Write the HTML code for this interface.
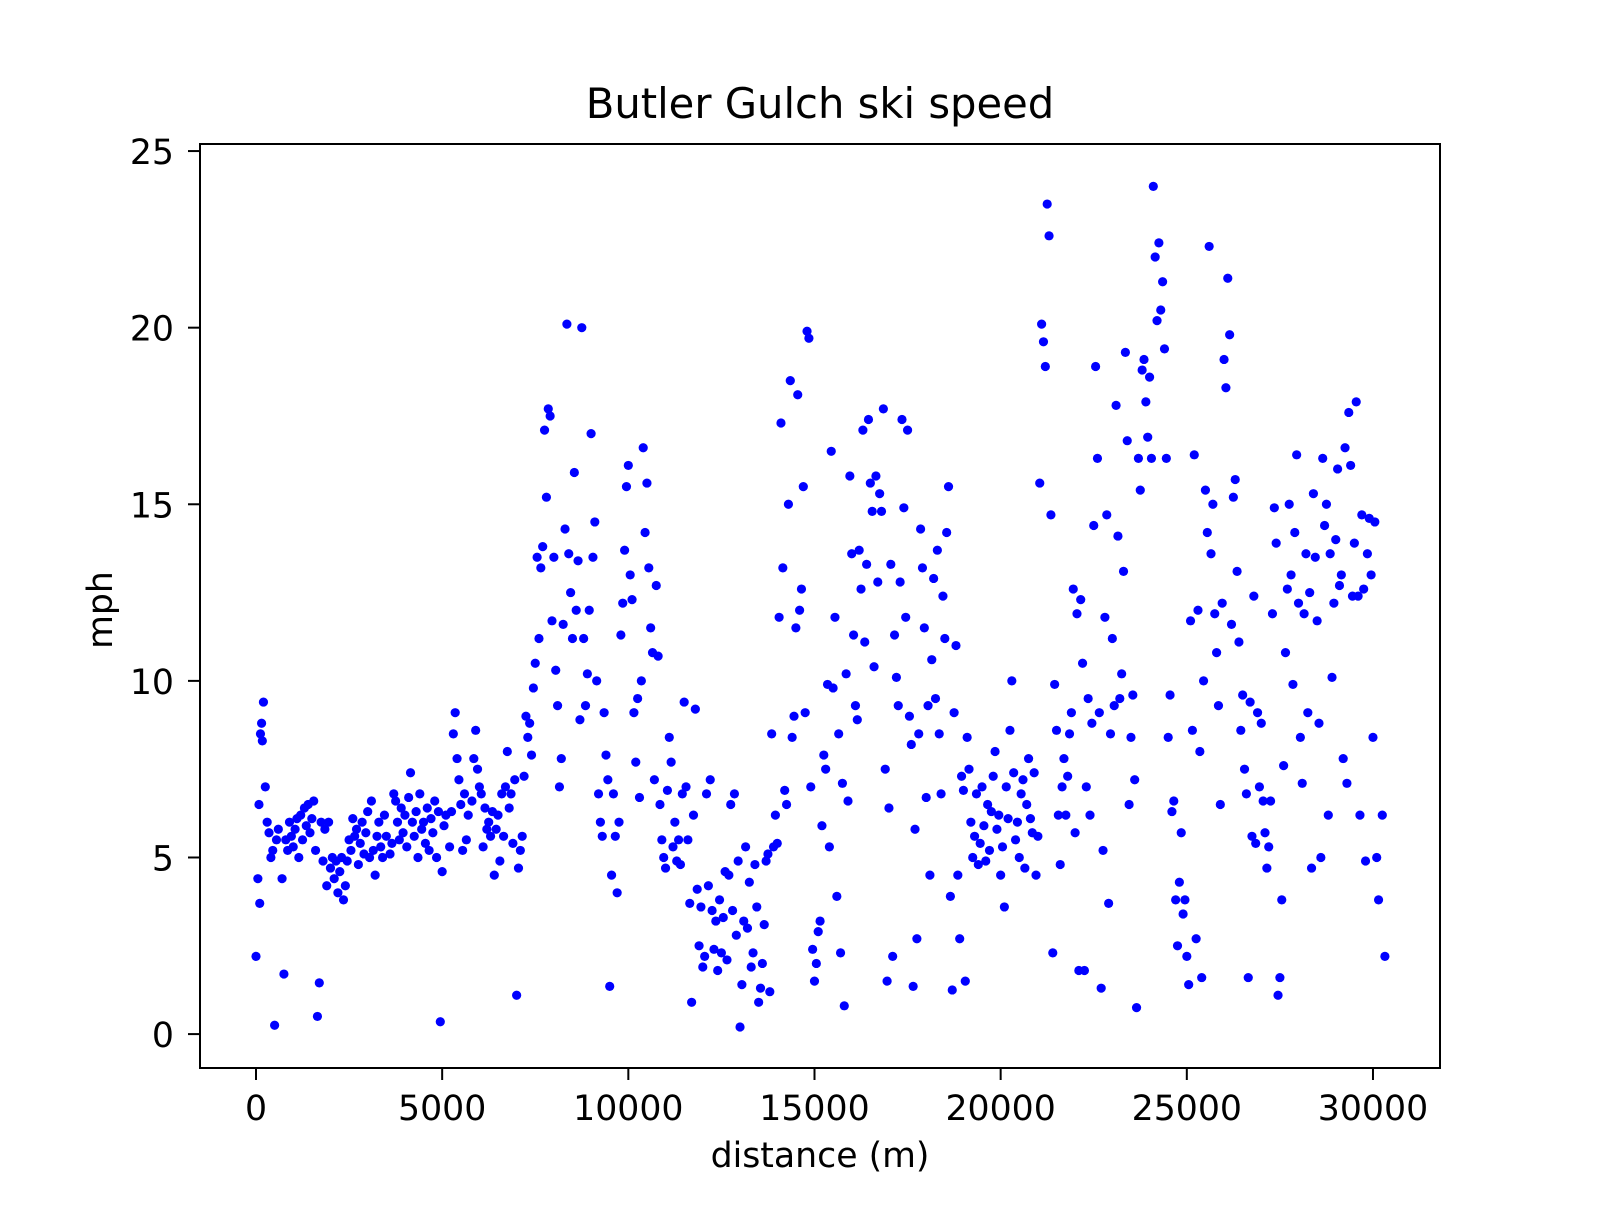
<!DOCTYPE html>
<html><head><meta charset="utf-8"><style>
html,body{margin:0;padding:0;background:#fff;}
svg text{font-family:"DejaVu Sans","Liberation Sans",sans-serif;fill:#000;}
</style></head><body>
<svg id="chart" width="1600" height="1200" viewBox="0 0 1600 1200" xmlns="http://www.w3.org/2000/svg">
<rect x="0" y="0" width="1600" height="1200" fill="#fff"/>
<text x="820" y="118" font-size="41.7" text-anchor="middle">Butler Gulch ski speed</text>
<g id="points"></g>
<g id="xticks"></g>
<g id="yticks"></g>
<rect x="200" y="144" width="1240" height="924" fill="none" stroke="#000" stroke-width="2"/>
<text x="820" y="1167" font-size="34.7" text-anchor="middle">distance (m)</text>
<text transform="translate(112,610) rotate(-90)" font-size="34.7" text-anchor="middle">mph</text>
</svg>
<script>
const xTicks=[0,5000,10000,15000,20000,25000,30000];
const yTicks=[0,5,10,15,20,25];
const distance=[0,50,100,80,120,150,170,200,250,300,350,400,450,500,550,600,700,750,800,850,900,950,1000,1050,1100,1150,1200,1250,1300,1350,1400,1450,1500,1550,1600,1650,1700,1750,1800,1850,1900,1950,2000,2050,2100,2150,2200,2250,2300,2350,2400,2450,2500,2550,2600,2650,2700,2750,2800,2850,2900,2950,3000,3050,3100,3150,3200,3250,3300,3350,3400,3450,3500,3600,3650,3700,3750,3800,3850,3900,3950,4000,4050,4100,4150,4200,4250,4300,4350,4400,4450,4500,4550,4600,4650,4700,4750,4800,4850,4900,4950,5000,5050,5100,5200,5250,5300,5350,5400,5450,5500,5550,5600,5650,5700,5800,5850,5900,5950,6000,6050,6100,6150,6200,6250,6300,6350,6400,6450,6500,6550,6600,6650,6700,6750,6800,6850,6900,6950,7000,7050,7100,7150,7200,7250,7300,7350,7400,7450,7500,7550,7600,7650,7700,7750,7800,7850,7900,7950,8000,8050,8100,8150,8200,8250,8300,8350,8400,8450,8500,8550,8600,8650,8700,8750,8800,8850,8900,8950,9000,9050,9100,9150,9200,9250,9300,9350,9400,9450,9500,9550,9600,9650,9700,9750,9800,9850,9900,9950,10000,10050,10100,10150,10200,10250,10300,10350,10400,10450,10500,10550,10600,10650,10700,10750,10800,10850,10900,10950,11000,11050,11100,11150,11200,11250,11300,11350,11400,11450,11500,11550,11600,11650,11700,11750,11800,11850,11900,11950,12000,12050,12100,12150,12200,12250,12300,12350,12400,12450,12500,12550,12600,12650,12700,12750,12800,12850,12900,12950,13000,13050,13100,13150,13200,13250,13300,13350,13400,13450,13500,13550,13600,13650,13700,13750,13800,13850,13900,13950,14000,14050,14100,14150,14200,14250,14300,14350,14400,14450,14500,14550,14600,14650,14700,14750,14800,14850,14900,14950,15000,15050,15100,15150,15200,15250,15300,15350,15400,15450,15500,15550,15600,15650,15700,15750,15800,15850,15900,15950,16000,16050,16100,16150,16200,16250,16300,16350,16400,16450,16500,16550,16600,16650,16700,16750,16800,16850,16900,16950,17000,17050,17100,17150,17200,17250,17300,17350,17400,17450,17500,17550,17600,17650,17700,17750,17800,17850,17900,17950,18000,18050,18100,18150,18200,18250,18300,18350,18400,18450,18500,18550,18600,18650,18700,18750,18800,18850,18900,18950,19000,19050,19100,19150,19200,19250,19300,19350,19400,19450,19500,19550,19600,19650,19700,19750,19800,19850,19900,19950,20000,20050,20100,20150,20200,20250,20300,20350,20400,20450,20500,20550,20600,20650,20700,20750,20800,20850,20900,20950,21000,21050,21100,21150,21200,21250,21300,21350,21400,21450,21500,21550,21600,21650,21700,21750,21800,21850,21900,21950,22000,22050,22100,22150,22200,22250,22300,22350,22400,22450,22500,22550,22600,22650,22700,22750,22800,22850,22900,22950,23000,23050,23100,23150,23200,23250,23300,23350,23400,23450,23500,23550,23600,23650,23700,23750,23800,23850,23900,23950,24000,24050,24100,24150,24200,24250,24300,24350,24400,24450,24500,24550,24600,24650,24700,24750,24800,24850,24900,24950,25000,25050,25100,25150,25200,25250,25300,25350,25400,25450,25500,25550,25600,25650,25700,25750,25800,25850,25900,25950,26000,26050,26100,26150,26200,26250,26300,26350,26400,26450,26500,26550,26600,26650,26700,26750,26800,26850,26900,26950,27000,27050,27100,27150,27200,27250,27300,27350,27400,27450,27500,27550,27600,27650,27700,27750,27800,27850,27900,27950,28000,28050,28100,28150,28200,28250,28300,28350,28400,28450,28500,28550,28600,28650,28700,28750,28800,28850,28900,28950,29000,29050,29100,29150,29200,29250,29300,29350,29400,29450,29500,29550,29600,29650,29700,29750,29800,29850,29900,29950,30000,30050,30100,30150,30250,30320];
const speed=[2.2,4.4,3.7,6.5,8.5,8.8,8.3,9.4,7.0,6.0,5.7,5.0,5.2,0.25,5.5,5.8,4.4,1.7,5.5,5.2,6.0,5.6,5.3,5.8,6.1,5.0,6.2,5.5,6.4,5.9,6.5,5.7,6.1,6.6,5.2,0.5,1.45,6.0,4.9,5.8,4.2,6.0,4.7,5.0,4.4,4.9,4.0,4.6,5.0,3.8,4.2,4.9,5.5,5.2,6.1,5.6,5.8,4.8,5.4,6.0,5.1,5.7,6.3,5.0,6.6,5.2,4.5,5.6,6.0,5.3,5.0,6.2,5.6,5.1,5.4,6.8,6.6,6.0,5.5,6.4,5.7,6.2,5.3,6.7,7.4,6.0,5.6,6.3,5.0,6.8,5.8,6.0,5.4,6.4,5.2,6.1,5.7,6.6,5.0,6.3,0.35,4.6,5.9,6.2,5.3,6.3,8.5,9.1,7.8,7.2,6.5,5.2,6.8,5.5,6.2,6.6,7.8,8.6,7.5,7.0,6.8,5.3,6.4,5.8,6.0,5.6,6.3,4.5,5.8,6.2,4.9,6.8,5.6,7.0,8.0,6.4,6.8,5.4,7.2,1.1,4.7,5.2,5.6,7.3,9.0,8.4,8.8,7.9,9.8,10.5,13.5,11.2,13.2,13.8,17.1,15.2,17.7,17.5,11.7,13.5,10.3,9.3,7.0,7.8,11.6,14.3,20.1,13.6,12.5,11.2,15.9,12.0,13.4,8.9,20.0,11.2,9.3,10.2,12.0,17.0,13.5,14.5,10.0,6.8,6.0,5.6,9.1,7.9,7.2,1.35,4.5,6.8,5.6,4.0,6.0,11.3,12.2,13.7,15.5,16.1,13.0,12.3,9.1,7.7,9.5,6.7,10.0,16.6,14.2,15.6,13.2,11.5,10.8,7.2,12.7,10.7,6.5,5.5,5.0,4.7,6.9,8.4,7.7,5.3,6.0,4.9,5.5,4.8,6.8,9.4,7.0,5.5,3.7,0.9,6.2,9.2,4.1,2.5,3.6,1.9,2.2,6.8,4.2,7.2,3.5,2.4,3.2,1.8,3.8,2.3,3.3,4.6,2.1,4.5,6.5,3.5,6.8,2.8,4.9,0.2,1.4,3.2,5.3,3.0,4.3,1.9,2.3,4.8,3.6,0.9,1.3,2.0,3.1,4.9,5.1,1.2,8.5,5.3,6.2,5.4,11.8,17.3,13.2,6.9,6.5,15.0,18.5,8.4,9.0,11.5,18.1,12.0,12.6,15.5,9.1,19.9,19.7,7.0,2.4,1.5,2.0,2.9,3.2,5.9,7.9,7.5,9.9,5.3,16.5,9.8,11.8,3.9,8.5,2.3,7.1,0.8,10.2,6.6,15.8,13.6,11.3,9.3,8.9,13.7,12.6,17.1,11.1,13.3,17.4,15.6,14.8,10.4,15.8,12.8,15.3,14.8,17.7,7.5,1.5,6.4,13.3,2.2,11.3,10.1,9.3,12.8,17.4,14.9,11.8,17.1,9.0,8.2,1.35,5.8,2.7,8.5,14.3,13.2,11.5,6.7,9.3,4.5,10.6,12.9,9.5,13.7,8.5,6.8,12.4,11.2,14.2,15.5,3.9,1.25,9.1,11.0,4.5,2.7,7.3,6.9,1.5,8.4,7.5,6.0,5.0,5.6,6.8,4.8,5.4,7.0,5.9,4.9,6.5,5.2,6.3,7.3,8.0,5.8,6.2,4.5,5.3,3.6,7.0,6.1,8.6,10.0,7.4,5.5,6.0,5.0,6.8,7.2,4.7,6.5,7.8,6.1,5.7,7.4,4.5,5.6,15.6,20.1,19.6,18.9,23.5,22.6,14.7,2.3,9.9,8.6,6.2,4.8,7.0,7.8,6.2,7.3,8.5,9.1,12.6,5.7,11.9,1.8,12.3,10.5,1.8,7.0,9.5,6.2,8.8,14.4,18.9,16.3,9.1,1.3,5.2,11.8,14.7,3.7,8.5,11.2,9.3,17.8,14.1,9.5,10.2,13.1,19.3,16.8,6.5,8.4,9.6,7.2,0.75,16.3,15.4,18.8,19.1,17.9,16.9,18.6,16.3,24.0,22.0,20.2,22.4,20.5,21.3,19.4,16.3,8.4,9.6,6.3,6.6,3.8,2.5,4.3,5.7,3.4,3.8,2.2,1.4,11.7,8.6,16.4,2.7,12.0,8.0,1.6,10.0,15.4,14.2,22.3,13.6,15.0,11.9,10.8,9.3,6.5,12.2,19.1,18.3,21.4,19.8,11.6,15.2,15.7,13.1,11.1,8.6,9.6,7.5,6.8,1.6,9.4,5.6,12.4,5.4,9.1,7.0,8.8,6.6,5.7,4.7,5.3,6.6,11.9,14.9,13.9,1.1,1.6,3.8,7.6,10.8,12.6,15.0,13.0,9.9,14.2,16.4,12.2,8.4,7.1,11.9,13.6,9.1,12.5,4.7,15.3,13.5,11.7,8.8,5.0,16.3,14.4,15.0,6.2,13.6,10.1,12.2,14.0,16.0,12.7,13.0,7.8,16.6,7.1,17.6,16.1,12.4,13.9,17.9,12.4,6.2,14.7,12.6,4.9,13.6,14.6,13.0,8.4,14.5,5.0,3.8,6.2,2.2,2.3];
const NS='http://www.w3.org/2000/svg';
const X0=200,X1=1440,Y0=144,Y1=1068;
const xmin=-1504,xmax=31800,ymin=-0.96,ymax=25.2;
function sx(v){return X0+(v-xmin)/(xmax-xmin)*(X1-X0);}
function sy(v){return Y1-(v-ymin)/(ymax-ymin)*(Y1-Y0);}
const gp=document.getElementById('points');
const n=Math.min(distance.length,speed.length);
for(let i=0;i<n;i++){
  const c=document.createElementNS(NS,'circle');
  c.setAttribute('cx',sx(distance[i]));c.setAttribute('cy',sy(speed[i]));
  c.setAttribute('r',4.6);c.setAttribute('fill','#0000ff');
  
  
  gp.appendChild(c);
}
const gx=document.getElementById('xticks');
xTicks.forEach(t=>{
  const x=sx(t);
  const l=document.createElementNS(NS,'line');
  l.setAttribute('x1',x);l.setAttribute('x2',x);l.setAttribute('y1',Y1);l.setAttribute('y2',Y1+12);
  l.setAttribute('stroke','#000');l.setAttribute('stroke-width','2');
  
  
  gx.appendChild(l);
  const tx=document.createElementNS(NS,'text');
  tx.setAttribute('x',x);tx.setAttribute('y',1120);tx.setAttribute('font-size','34.7');tx.setAttribute('text-anchor','middle');
  tx.textContent=t;
  
  
  gx.appendChild(tx);
});
const gy=document.getElementById('yticks');
yTicks.forEach(t=>{
  const y=sy(t);
  const l=document.createElementNS(NS,'line');
  l.setAttribute('x1',X0-12);l.setAttribute('x2',X0);l.setAttribute('y1',y);l.setAttribute('y2',y);
  l.setAttribute('stroke','#000');l.setAttribute('stroke-width','2');
  
  
  gy.appendChild(l);
  const tx=document.createElementNS(NS,'text');
  tx.setAttribute('x',174);tx.setAttribute('y',y+13);tx.setAttribute('font-size','34.7');tx.setAttribute('text-anchor','end');
  tx.textContent=t;
  
  
  gy.appendChild(tx);
});
</script>
</body></html>
